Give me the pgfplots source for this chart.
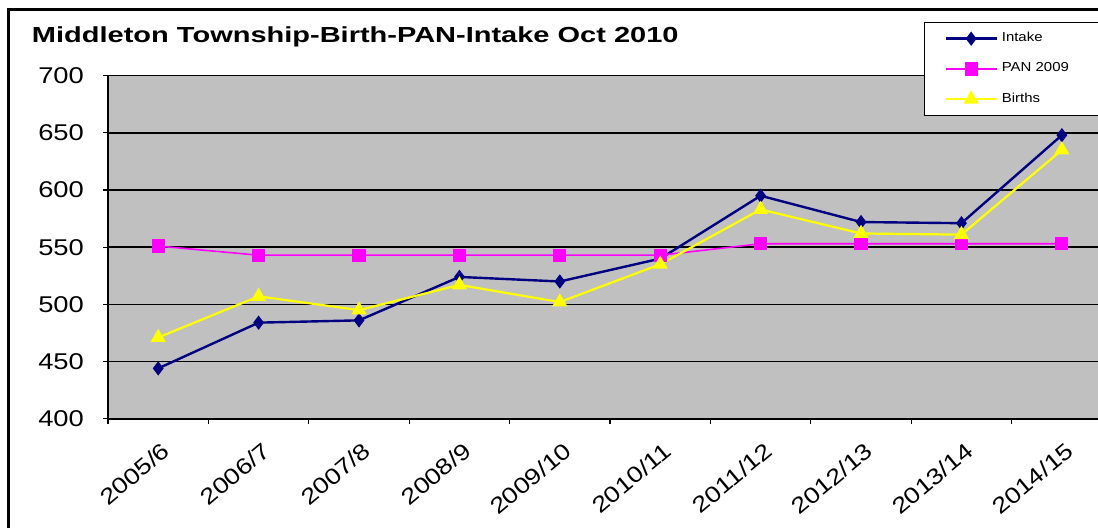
\documentclass[border=0pt]{standalone}
\usepackage{fontspec}
\setmainfont{Liberation Sans}[FakeStretch=1.2]
\newfontfamily\titlefont{Liberation Sans}[FakeStretch=1.33]
\newfontfamily\legfont{Liberation Sans}[FakeStretch=1.15]
\usepackage{pgfplots}
\pgfplotsset{compat=1.18}
\definecolor{navyc}{HTML}{000080}
\definecolor{magc}{HTML}{FF00FF}
\definecolor{yelc}{HTML}{FFFF00}
\definecolor{bgc}{HTML}{C0C0C0}
\begin{document}
\begin{tikzpicture}
\useasboundingbox (0,0) rectangle (549pt,264pt);
\fill[white] (0,0) rectangle (549pt,264pt);
\draw[line width=1.5pt] (4pt,0) -- (4pt,259pt) -- (560pt,259pt);
\node[anchor=base west, inner sep=0pt, font=\titlefont\bfseries\fontsize{10.9}{12}\selectfont] at (15.8pt,242.85pt) {Middleton Township-Birth-PAN-Intake Oct 2010};
\begin{axis}[
  at={(54pt,54.65pt)}, anchor=south west,
  scale only axis, width=495pt, height=171.5pt,
  xmin=-0.5, xmax=9.36, ymin=400, ymax=700,
  axis lines=left, axis line style={line width=1pt, -},
  axis background/.style={fill=bgc},
  ytick={400,450,...,700},
  xtick={0,...,9},
  xticklabels={2005/6,2006/7,2007/8,2008/9,2009/10,2010/11,2011/12,2012/13,2013/14,2014/15},
  minor xtick={-0.5,0.5,...,8.5},
  major x tick style={draw=none},
  tick align=outside, major tick length=2.5pt, minor tick length=2.5pt,
  tick style={black, line width=0.6pt},
  ymajorgrids, grid style={black, line width=0.7pt},
  /pgf/number format/assume math mode=true,
  yticklabel style={font=\fontsize{11.4}{13}\selectfont, xshift=-6pt},
  xticklabel shift=7pt,
  xticklabel style={font=\fontsize{11.2}{13}\selectfont, xshift=1.5pt, rotate=40, anchor=north east, inner sep=1pt},
  legend style={at={(0.8242,1.1566)}, anchor=north west, draw=black, line width=0.5pt, fill=white,
    font=\legfont\fontsize{6.5}{8}\selectfont, row sep=5pt, inner xsep=10pt, inner ysep=3pt,
    column sep=0pt, cells={anchor=west}},
  legend cell align=left,
  legend image code/.code={\draw[mark repeat=2,mark phase=2] plot coordinates {(0pt,0pt)(12.75pt,0pt)(25.5pt,0pt)};},
]
\addplot[navyc, line width=1.2pt, mark=diamond*, mark size=2.6pt, mark options={solid, fill=navyc}] coordinates {
(0,444)(1,484)(2,486)(3,524)(4,520)(5,540)(6,595)(7,572)(8,571)(9,648)};
\addlegendentry{\makebox[70pt][l]{Intake}}
\addplot[magc, line width=0.8pt, mark=square*, mark size=2.9pt, mark options={solid, fill=magc}] coordinates {
(0,551)(1,543)(2,543)(3,543)(4,543)(5,543)(6,553)(7,553)(8,553)(9,553)};
\addlegendentry{\makebox[70pt][l]{PAN 2009}}
\addplot[yelc, line width=1.1pt, mark=triangle*, mark size=3.3pt, mark options={solid, fill=yelc}] coordinates {
(0,471)(1,507)(2,495)(3,517)(4,502)(5,535)(6,583)(7,562)(8,561)(9,635)};
\addlegendentry{\makebox[70pt][l]{Births}}
\end{axis}
\end{tikzpicture}
\end{document}
